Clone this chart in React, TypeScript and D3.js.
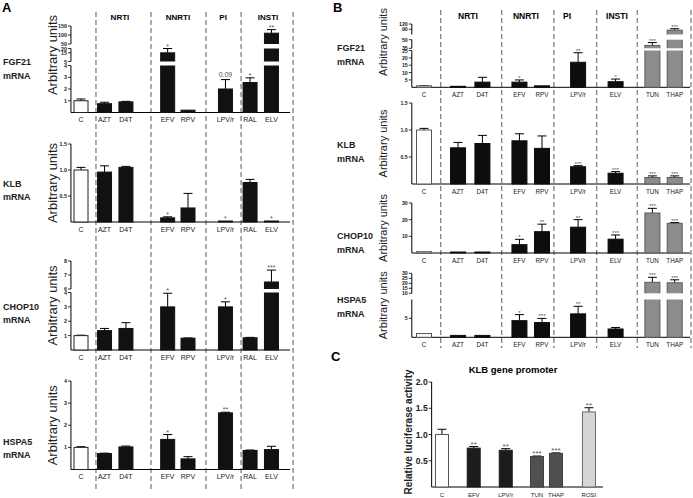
import React from "react";
import * as d3 from "d3";

const FONT = "'Liberation Sans', Arial, Helvetica, sans-serif";

// ---------------- DATA ----------------
// Panel A
const catsA = ["C", "AZT", "D4T", "EFV", "RPV", "LPV/r", "RAL", "ELV"];
const groupsA = ["NRTI", "NNRTI", "PI", "INSTI"];
const fgf21A = [1.0, 0.75, 0.9, 15, 0.2, 2.0, 2.55, 110];
const fgf21AErr = [0.15, 0.12, 0.05, 5, 0, 0.8, 0.4, 20];
const fgf21ASig = ["", "", "", "*", "", "0.09", "*", "**"];
const klbA = [1.0, 0.96, 1.05, 0.08, 0.27, 0.01, 0.76, 0.01];
const klbAErr = [0.05, 0.12, 0.02, 0.02, 0.28, 0, 0.06, 0];
const klbASig = ["", "", "", "*", "", "*", "", "*"];
const chopA = [1.0, 1.35, 1.5, 3.0, 0.82, 3.0, 0.85, 6.5];
const chopAErr = [0.03, 0.15, 0.4, 0.95, 0.02, 0.35, 0.03, 0.85];
const chopASig = ["", "", "", "*", "", "*", "", "***"];
const hspaA = [1.0, 0.72, 1.02, 1.36, 0.48, 2.56, 0.86, 0.9];
const hspaAErr = [0.03, 0.02, 0.04, 0.22, 0.1, 0.03, 0.02, 0.15];
const hspaASig = ["", "", "", "*", "", "**", "", ""];

// Panel B
const catsB = ["C", "AZT", "D4T", "EFV", "RPV", "LPV/r", "ELV", "TUN", "THAP"];
const groupsB = ["NRTI", "NNRTI", "PI", "INSTI"];
const fgf21B = [1.0, 0.5, 3.5, 3.5, 1.0, 17, 3.8, 40, 85];
const fgf21BErr = [0.2, 0, 3.3, 1.5, 0, 6.5, 1.8, 5, 8];
const fgf21BSig = ["", "", "", "*", "", "**", "*", "***", "***"];
const klbB = [1.0, 0.67, 0.75, 0.8, 0.66, 0.32, 0.2, 0.12, 0.12];
const klbBErr = [0.03, 0.1, 0.15, 0.13, 0.23, 0.02, 0.03, 0.03, 0.03];
const klbBSig = ["", "", "", "", "", "***", "***", "***", "***"];
const chopB = [0.8, 0.5, 0.5, 5.0, 12.8, 15.5, 8.3, 24, 17.8];
const chopBErr = [0, 0, 0, 3.2, 4.5, 4.5, 2.5, 2.8, 0.5];
const chopBSig = ["", "", "", "*", "**", "**", "***", "***", "***"];
const hspaB = [1.0, 0.5, 0.5, 4.4, 3.9, 6.2, 2.2, 21, 20.5];
const hspaBErr = [0, 0, 0, 1.6, 1.1, 2.0, 0.4, 5, 3];
const hspaBSig = ["", "", "", "*", "***", "**", "", "***", "***"];

// Panel C
const catsC = ["C", "EFV", "LPV/r", "TUN", "THAP", "ROSI"];
const lucC = [1.0, 0.74, 0.7, 0.58, 0.64, 1.43];
const lucCErr = [0.1, 0.03, 0.03, 0.01, 0.01, 0.08];
const lucCSig = ["", "**", "**", "***", "***", "**"];

// Axis ticks
const ticksA_fgf = [[1, 2, 3, 4], [5, 15, 20], [50, 100, 150]];
const ticksA_klb = [[0.5, 1.0, 1.5]];
const ticksA_chop = [[1, 2, 3, 4], [6, 7, 8]];
const ticksA_hspa = [[1, 2, 3, 4]];
const ticksB_fgf = [[5, 10, 15, 20, 25], [35, 50], [90, 120]];
const ticksB_klb = [[0.5, 1.0, 1.5]];
const ticksB_chop = [[10, 20, 30]];
const ticksB_hspa = [[5], [10, 15, 20, 25, 30]];
const ticksC = [0.5, 1.0, 1.5, 2.0];

// ---------------- LAYOUT ----------------
// slot positions (layout units, mapped by linear x scales)
const slotsA = [0, 1.1, 2.1, 4.05, 5.0, 6.75, 7.9, 8.9];
const dividersA = [0.7, 3.27, 5.84, 7.48, 9.91];
const headersA = [1.82, 4.53, 6.64, 8.74];
const slotsB = [0, 1.48, 2.54, 4.15, 5.13, 6.7, 8.33, 9.93, 10.9];
const dividersB = [0.73, 3.38, 5.65, 7.51, 9.27, 11.61];
const headersB = [1.91, 4.43, 6.22, 8.39];
const slotsC = [0, 2.02, 4.06, 6.05, 7.26, 9.36];

type Seg = { d: [number, number]; r: [number, number]; t: number[] };

function pieceY(segs: Seg[]) {
  const sc = segs.map((s) => d3.scaleLinear().domain(s.d).range(s.r));
  return (v: number) => {
    for (let i = segs.length - 1; i >= 0; i--) {
      if (v >= segs[i].d[0] || i === 0) return sc[i](Math.min(v, segs[i].d[1]));
    }
    return sc[0](v);
  };
}

type RowProps = {
  cats: string[];
  vals: number[];
  errs: number[];
  sigs: string[];
  slots: number[];
  xs: d3.ScaleLinear<number, number>;
  segs: Seg[];
  axisSlot: number;
  endSlot: number;
  bw: number;
  fill: (i: number) => string;
  stroke: (i: number) => string;
  fmt: (v: number) => string;
  tickFs: number;
  tickBold?: boolean;
  catFs: number;
  catDy: number;
  sigFs: number;
  cap: number;
  label?: string[];
  labelX?: number;
  labelY?: number[];
  labelFs?: number;
  title: string;
  titleX: number;
  titleFs: number;
  titleY?: number;
  titleBold?: boolean;
};

function BarRow(p: RowProps) {
  const y = pieceY(p.segs);
  const ax = p.xs(p.axisSlot);
  const y0 = y(0);
  const ex = p.xs(p.endSlot);
  const top = p.segs[p.segs.length - 1].r[1];
  const tY = p.titleY ?? (y0 + top) / 2;
  return (
    <g fontFamily={FONT}>
      {p.segs.map((s, si) => (
        <g key={"s" + si}>
          <line x1={ax} x2={ax} y1={s.r[0]} y2={s.r[1]} stroke="#000" strokeWidth={1} />
          {s.t.map((t) => (
            <g key={t}>
              <line x1={ax - 3} x2={ax} y1={y(t)} y2={y(t)} stroke="#000" strokeWidth={0.8} />
              <text
                x={ax - 4}
                y={y(t)}
                fontSize={p.tickFs}
                fontWeight={p.tickBold ? "bold" : "normal"}
                textAnchor="end"
                dominantBaseline="central"
                fill="#222"
              >
                {p.fmt(t)}
              </text>
            </g>
          ))}
        </g>
      ))}
      <line x1={ax} x2={ex} y1={y0} y2={y0} stroke="#000" strokeWidth={1} />
      {p.vals.map((v, i) => {
        const cx = p.xs(p.slots[i]);
        const h = Math.max(y0 - y(v), 1);
        const e = p.errs[i];
        const eTop = e > 0 ? y(v + e) : y(v);
        return (
          <g key={p.cats[i]}>
            {e > 0 && (
              <g stroke="#000" strokeWidth={1}>
                <line x1={cx} x2={cx} y1={y(v)} y2={eTop} />
                <line x1={cx - p.cap / 2} x2={cx + p.cap / 2} y1={eTop} y2={eTop} />
              </g>
            )}
            <rect
              x={cx - p.bw / 2}
              y={y0 - h}
              width={p.bw}
              height={h}
              fill={p.fill(i)}
              stroke={p.stroke(i)}
              strokeWidth={1}
            />
            {p.segs.slice(0, -1).map((s, si) =>
              v > s.d[1] ? (
                <rect
                  key={"g" + si}
                  x={cx - p.bw / 2 - 1.5}
                  y={p.segs[si + 1].r[0]}
                  width={p.bw + 3}
                  height={s.r[1] - p.segs[si + 1].r[0]}
                  fill="#fff"
                />
              ) : null
            )}
            {p.sigs[i] && (
              <text
                x={cx}
                y={eTop - (p.sigs[i].startsWith("*") ? 0 : 3)}
                fontSize={p.sigFs}
                textAnchor="middle"
                fill="#555"
              >
                {p.sigs[i]}
              </text>
            )}
            <text x={cx} y={y0 + p.catDy} fontSize={p.catFs} textAnchor="middle" fill="#222">
              {p.cats[i]}
            </text>
          </g>
        );
      })}
      <text
        transform={`translate(${p.titleX},${tY}) rotate(-90)`}
        fontSize={p.titleFs}
        fontWeight={p.titleBold ? "bold" : "normal"}
        textAnchor="middle"
        dominantBaseline="central"
        fill="#222"
      >
        {p.title}
      </text>
      {p.label &&
        p.label.map((l, li) => (
          <text key={l} x={p.labelX} y={p.labelY![li]} fontSize={p.labelFs} fontWeight="bold" fill="#222" dominantBaseline="central">
            {l}
          </text>
        ))}
    </g>
  );
}

const fmtInt = d3.format("d");
const fmt1 = d3.format(".1f");

export default function App() {
  const xA = d3.scaleLinear().domain([0, 1]).range([81, 102.4]);
  const xB = d3.scaleLinear().domain([0, 1]).range([424, 447]);
  const xC = d3.scaleLinear().domain([0, 1]).range([442, 457.7]);

  const fillA = (i: number) => (i === 0 ? "#fff" : "#111");
  const strokeA = (i: number) => (i === 0 ? "#222" : "#111");
  const fillB = (i: number) => (i === 0 ? "#fff" : i >= 7 ? "#8c8c8c" : "#0d0d0d");
  const strokeB = (i: number) => (i === 0 ? "#555" : i >= 7 ? "#5a5a5a" : "#0d0d0d");
  const fillsC = ["#fff", "#1c1c1c", "#1c1c1c", "#505050", "#505050", "#d6d6d6"];
  const strokesC = ["#555", "#1c1c1c", "#1c1c1c", "#404040", "#404040", "#6a6a6a"];

  const commonA = {
    cats: catsA,
    slots: slotsA,
    xs: xA,
    axisSlot: -0.47,
    endSlot: 9.77,
    bw: 14,
    fill: fillA,
    stroke: strokeA,
    tickFs: 5.4,
    tickBold: true,
    catFs: 7,
    catDy: 9.5,
    sigFs: 7,
    cap: 9,
    labelX: 3,
    labelFs: 9,
    title: "Arbitrary units",
    titleX: 52,
    titleFs: 13,
  };
  const commonB = {
    cats: catsB,
    slots: slotsB,
    xs: xB,
    axisSlot: -0.53,
    endSlot: 11.57,
    bw: 15,
    fill: fillB,
    stroke: strokeB,
    tickFs: 5.3,
    tickBold: true,
    catFs: 6.3,
    catDy: 10,
    sigFs: 6,
    cap: 9,
    labelX: 337,
    labelFs: 9,
    title: "Arbitrary units",
    titleX: 383,
    titleFs: 11,
  };

  const mk = (t: number[][], ranges: [number, number][], doms: [number, number][]): Seg[] =>
    ranges.map((r, i) => ({ d: doms[i], r, t: t[i] }));

  return (
    <svg
      width={693}
      height={498}
      style={{ position: "absolute", left: 0, top: 0, background: "#fff" }}
      fontFamily={FONT}
    >
      <rect width={693} height={498} fill="#fff" />
      <text x={2} y={12} fontSize={13} fontWeight="bold">A</text>
      <text x={333} y={12} fontSize={13} fontWeight="bold">B</text>
      <text x={331} y={361} fontSize={13} fontWeight="bold">C</text>

      {dividersA.map((d) => (
        <line key={d} x1={xA(d)} x2={xA(d)} y1={12} y2={490} stroke="#444" strokeWidth={0.9} strokeDasharray="5,3" />
      ))}
      {groupsA.map((g, i) => (
        <text key={g} x={xA(headersA[i])} y={20} fontSize={8} fontWeight="bold" textAnchor="middle">
          {g}
        </text>
      ))}

      <BarRow
        {...commonA}
        vals={fgf21A}
        errs={fgf21AErr}
        sigs={fgf21ASig}
        segs={mk(ticksA_fgf, [[112.5, 65.5], [61.5, 48.5], [44, 26]], [[0, 4], [5, 20], [50, 150]])}
        fmt={fmtInt}
        label={["FGF21", "mRNA"]}
        labelY={[62, 76]}
        titleY={55}
      />
      <BarRow
        {...commonA}
        vals={klbA}
        errs={klbAErr}
        sigs={klbASig}
        segs={mk(ticksA_klb, [[222, 144]], [[0, 1.5]])}
        fmt={fmt1}
        label={["KLB", "mRNA"]}
        labelY={[184, 197]}
      />
      <BarRow
        {...commonA}
        vals={chopA}
        errs={chopAErr}
        sigs={chopASig}
        segs={mk(ticksA_chop, [[350, 292.5], [289, 261]], [[0, 4], [6, 8]])}
        fmt={fmtInt}
        label={["CHOP10", "mRNA"]}
        labelY={[307, 320]}
      />
      <BarRow
        {...commonA}
        vals={hspaA}
        errs={hspaAErr}
        sigs={hspaASig}
        segs={mk(ticksA_hspa, [[469.5, 381]], [[0, 4]])}
        fmt={fmtInt}
        label={["HSPA5", "mRNA"]}
        labelY={[442, 455]}
      />

      {dividersB.map((d) => (
        <line key={d} x1={xB(d)} x2={xB(d)} y1={10} y2={348} stroke="#444" strokeWidth={0.9} strokeDasharray="5,3" />
      ))}
      {groupsB.map((g, i) => (
        <text key={g} x={xB(headersB[i])} y={19} fontSize={8.5} fontWeight="bold" textAnchor="middle">
          {g}
        </text>
      ))}

      <BarRow
        {...commonB}
        vals={fgf21B}
        errs={fgf21BErr}
        sigs={fgf21BSig}
        segs={mk(ticksB_fgf, [[87.3, 50.5], [48.3, 39.7], [34.5, 24]], [[0, 25], [35, 50], [60, 120]])}
        fmt={fmtInt}
        label={["FGF21", "mRNA"]}
        labelY={[48, 62]}
        titleY={42}
      />
      <BarRow
        {...commonB}
        vals={klbB}
        errs={klbBErr}
        sigs={klbBSig}
        segs={mk(ticksB_klb, [[184, 103]], [[0, 1.5]])}
        fmt={fmt1}
        label={["KLB", "mRNA"]}
        labelY={[145, 159]}
      />
      <BarRow
        {...commonB}
        vals={chopB}
        errs={chopBErr}
        sigs={chopBSig}
        segs={mk(ticksB_chop, [[253, 203]], [[0, 30]])}
        fmt={fmtInt}
        label={["CHOP10", "mRNA"]}
        labelY={[236, 250]}
      />
      <BarRow
        {...commonB}
        vals={hspaB}
        errs={hspaBErr}
        sigs={hspaBSig}
        segs={mk(ticksB_hspa, [[337.3, 299.5], [293.3, 273.3]], [[0, 10], [10, 30]])}
        fmt={fmtInt}
        label={["HSPA5", "mRNA"]}
        labelY={[300, 314]}
      />

      <text x={513} y={369} fontSize={9.5} fontWeight="bold" textAnchor="middle" dominantBaseline="central">
        KLB gene promoter
      </text>
      <BarRow
        cats={catsC}
        vals={lucC}
        errs={lucCErr}
        sigs={lucCSig}
        slots={slotsC}
        xs={xC}
        segs={[{ d: [0, 2], r: [487, 382], t: ticksC }]}
        axisSlot={-0.66}
        endSlot={10.25}
        bw={13}
        fill={(i) => fillsC[i]}
        stroke={(i) => strokesC[i]}
        fmt={fmt1}
        tickFs={8.5}
        tickBold={true}
        catFs={6}
        catDy={9.5}
        sigFs={8}
        cap={9}
        title="Relative luciferase activity"
        titleX={408}
        titleFs={10}
        titleY={432}
        titleBold={true}
      />
    </svg>
  );
}
